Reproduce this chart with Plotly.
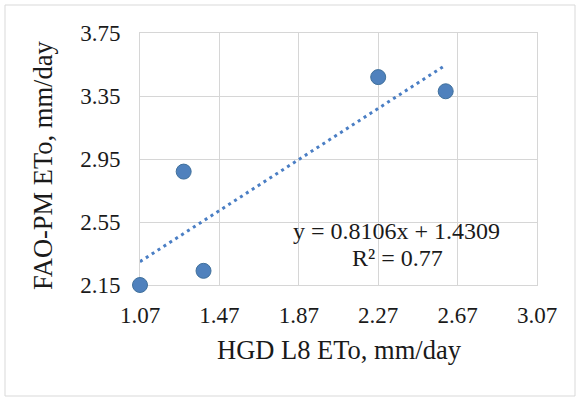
import plotly.graph_objects as go

# Observed daily reference evapotranspiration (mm/day)
hgd_l8_eto = [1.07, 1.29, 1.39, 2.27, 2.61]
fao_pm_eto = [2.15, 2.87, 2.24, 3.47, 3.38]

# Linear trendline coefficients and fit
slope = 0.8106
intercept = 1.4309
r_squared = 0.77

x_ticks = [1.07, 1.47, 1.87, 2.27, 2.67, 3.07]
y_ticks = [2.15, 2.55, 2.95, 3.35, 3.75]

FONT = "Liberation Serif, Times New Roman, serif"
GRID = "#D6D6D6"
TEXT = "#1a1a1a"

W, H = 580, 400
L, R, T, B = 140, 43, 33, 115
pw, ph = W - L - R, H - T - B

trend_x = [min(hgd_l8_eto), max(hgd_l8_eto)]
trend_y = [slope * v + intercept for v in trend_x]

fig = go.Figure()
fig.add_trace(go.Scatter(
    x=trend_x, y=trend_y, mode="lines",
    line=dict(color="#4A7EC4", width=3, dash="3px,4px"),
    hoverinfo="skip", showlegend=False,
))
fig.add_trace(go.Scatter(
    x=hgd_l8_eto, y=fao_pm_eto, mode="markers",
    marker=dict(size=15, color="#4F81BD", line=dict(color="#41719C", width=1)),
    cliponaxis=False, showlegend=False,
))

axis_common = dict(
    showgrid=True, gridcolor=GRID, gridwidth=1,
    showline=True, linecolor=GRID, linewidth=1, mirror=True,
    zeroline=False, ticks="", layer="below traces",
    tickfont=dict(family=FONT, size=23, color=TEXT),
    tickformat=".2f",
)

fig.update_xaxes(range=[x_ticks[0], x_ticks[-1]], tickvals=x_ticks, ticklabelstandoff=9, **axis_common)
fig.update_yaxes(range=[y_ticks[0], y_ticks[-1]], tickvals=y_ticks, ticklabelstandoff=14, **axis_common)


def px(xp):
    return (xp - L) / pw


def py(yp):
    return (H - B - yp) / ph


def label(text, x, y, size, angle=0):
    fig.add_annotation(
        text=text, x=px(x), y=py(y), xref="paper", yref="paper",
        xanchor="center", yanchor="middle", showarrow=False,
        textangle=angle, font=dict(family=FONT, size=size, color=TEXT),
    )


label(f"y = {slope}x + {intercept}", 396, 231, 24)
label(f"R² = {r_squared}", 397, 258, 24)
label("HGD L8 ETo, mm/day", 339, 350, 26.5)
label("FAO-PM ETo, mm/day", 43, 166, 26.5, angle=-90)

# Chart-area border
fig.add_shape(
    type="rect", xref="paper", yref="paper",
    x0=px(5), x1=px(575), y0=py(396), y1=py(5),
    line=dict(color="#D9D9D9", width=1), layer="below",
)

fig.update_layout(
    width=W, height=H,
    margin=dict(l=L, r=R, t=T, b=B),
    paper_bgcolor="white", plot_bgcolor="white",
)

fig.write_html("out.html")
